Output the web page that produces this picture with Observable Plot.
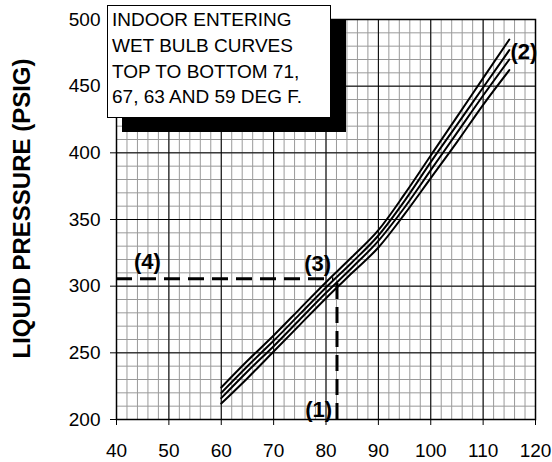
<!DOCTYPE html>
<html><head><meta charset="utf-8">
<script src="https://cdn.jsdelivr.net/npm/d3@7"></script>
<script src="https://cdn.jsdelivr.net/npm/@observablehq/plot@0.6"></script>
<style>
body{margin:0;background:#fff;}
#wrap{position:relative;width:552px;height:462px;overflow:hidden;}
#note{position:absolute;left:107px;top:5px;width:224px;height:113px;box-sizing:border-box;border:1.5px solid #000;background:#fff;box-shadow:15px 14px 0 #000;font:19px "Liberation Sans",Arial,sans-serif;line-height:25.8px;padding:1px 0 0 4px;color:#000;white-space:nowrap;z-index:2;}
</style></head>
<body><div id="wrap"></div>
<script>
// Outdoor dry bulb temperature (deg F)
const dryBulb = [60, 65, 70, 75, 80, 85, 90, 95, 100, 105, 110, 115];
// Liquid pressure (PSIG) per indoor entering wet bulb curve
const wb71 = [224, 244, 263, 283, 303, 322, 342, 369, 398, 427, 456, 485];
const wb67 = [220, 240, 259, 279, 299, 318, 338, 364, 393, 421, 449, 477];
const wb63 = [216, 236, 255, 275, 295, 314, 334, 359, 387, 415, 443, 470];
const wb59 = [212, 231, 251, 271, 291, 310, 329, 354, 381, 408, 436, 462];
const seriesNames = ["71", "67", "63", "59"];
const xTicks = [40, 50, 60, 70, 80, 90, 100, 110, 120];
const yTicks = [200, 250, 300, 350, 400, 450, 500];
const yTitle = "LIQUID PRESSURE (PSIG)";
const noteLines = ["INDOOR ENTERING", "WET BULB CURVES", "TOP TO BOTTOM 71,", "67, 63 AND 59 DEG F."];
// Step markers
const markerLabels = ["(1)", "(2)", "(3)", "(4)"];
const markerX = [78.6, 117.8, 78.4, 45.9];
const markerY = [207, 475.5, 317, 318];
// Reading guide lines
const guideH = {y: 305.5, x1: 40, x2: 81.5};
const guideV = {x: 82.1, y1: 200, y2: 304};

const curveRows = [];
[wb71, wb67, wb63, wb59].forEach((vals, s) => {
  vals.forEach((v, i) => curveRows.push({series: seriesNames[s], x: dryBulb[i], y: v}));
});
const markers = markerLabels.map((t, i) => ({t, x: markerX[i], y: markerY[i]}));
const font = "'Liberation Sans', Arial, sans-serif";

const chart = Plot.plot({
  width: 552,
  height: 462,
  marginLeft: 116,
  marginRight: 17,
  marginTop: 19,
  marginBottom: 43,
  style: {fontFamily: font, fontSize: "19px", background: "white", color: "black"},
  x: {domain: [40, 120]},
  y: {domain: [200, 500]},
  marks: [
    Plot.ruleX(d3.range(40, 121, 2), {stroke: "#9a9a9a", strokeWidth: 1}),
    Plot.ruleY(d3.range(200, 501, 10), {stroke: "#9a9a9a", strokeWidth: 1}),
    Plot.ruleX(xTicks, {stroke: "black", strokeWidth: 1}),
    Plot.ruleY(yTicks, {stroke: "black", strokeWidth: 1}),
    Plot.frame({stroke: "black", strokeWidth: 1.5}),
    Plot.line(curveRows, {x: "x", y: "y", z: "series", stroke: "black", strokeWidth: 2, curve: "monotone-x"}),
    Plot.ruleY([guideH.y], {x1: guideH.x1, x2: guideH.x2, stroke: "black", strokeWidth: 3, strokeDasharray: "16,8"}),
    Plot.ruleX([guideV.x], {y1: guideV.y1, y2: guideV.y2, stroke: "black", strokeWidth: 3, strokeDasharray: "16,8"}),
    Plot.text(markers, {x: "x", y: "y", text: "t", fontWeight: "bold", fontSize: 22, fontFamily: font, fill: "black"}),
    Plot.axisX({ticks: xTicks, tickSize: 6, tickFormat: () => "", label: null, stroke: "black"}),
    Plot.axisY({ticks: yTicks, tickSize: 6, tickFormat: () => "", label: null, stroke: "black"}),
    Plot.text(xTicks, {x: (d) => d, frameAnchor: "bottom", lineAnchor: "top", dy: 24, text: (d) => String(d), fontSize: 19, fontFamily: font, fill: "black"}),
    Plot.text(yTicks, {y: (d) => d, frameAnchor: "left", textAnchor: "end", dx: -16, text: (d) => String(d), fontSize: 19, fontFamily: font, fill: "black"}),
    Plot.text([yTitle], {frameAnchor: "left", textAnchor: "middle", rotate: -90, dx: -94, dy: -11, fontWeight: "bold", fontSize: 24, fontFamily: font, fill: "black"})
  ]
});
const wrap = document.getElementById("wrap");
wrap.appendChild(chart);
const note = document.createElement("div");
note.id = "note";
note.innerHTML = noteLines.join("<br>");
wrap.appendChild(note);
</script>
</body></html>
